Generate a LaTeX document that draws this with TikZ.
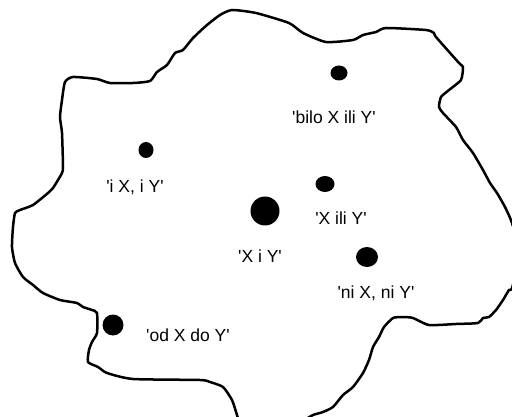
\documentclass[tikz,border=0pt]{standalone}
\usepackage{fontspec}
\setmainfont{Liberation Sans}[Ligatures=TeXOff]
\usetikzlibrary{shapes.geometric}
\begin{document}
\begin{tikzpicture}[x=1pt, y=-1pt, every node/.style={font=\fontsize{17.5}{20}\selectfont, inner sep=0pt},
  dot/.style={ellipse, fill=black, draw=none, inner sep=0pt}]
\useasboundingbox (0,0) rectangle (512,417);
\begin{scope}
\clip (0,0) rectangle (512,417);
\draw[line width=2.5pt, line join=round, line cap=round] plot[smooth, tension=0.35] coordinates {
  (240,425) (237,415) (232,400) (223,387) (210,382) (200,380) (133,379) (107,373) (98,367)
  (88,362) (89,350) (92,342) (97,333) (97,313) (92,310) (83,307) (77,303) (60,300) (43,293)
  (33,285) (23,277) (15,263) (12,247) (13,227) (15,213) (20,210) (33,205) (48,193) (53,188)
  (58,180) (62,173) (63,167) (62,133) (60,117) (62,100) (65,82) (73,77) (97,79) (110,83)
  (133,83) (150,81) (157,72) (167,65) (175,53) (183,50) (193,38) (207,25) (220,15) (232,10)
  (256,13) (289,23) (303,33) (326,42) (353,40) (363,35) (376,32) (386,28) (426,30) (434,33)
  (436,37) (459,63) (463,67) (461,80) (449,90) (441,97) (439,107) (443,113) (456,127)
  (463,140) (473,153) (483,170) (490,183) (497,193) (505,207) (512,223) (520,255) (512,288)
  (509,290) (503,300) (496,310) (489,317) (483,318) (478,323) (456,324) (429,325) (413,318)
  (403,317) (393,318) (384,327) (379,337) (373,347) (369,360) (363,373) (353,387) (343,395)
  (333,407) (323,412) (313,415) (303,421)};
\end{scope}
% points
\node[dot, minimum width=17pt, minimum height=15pt] (bilo) at (339,73) {};
\node[dot, minimum width=15pt, minimum height=16pt] (ixiy) at (146,150) {};
\node[dot, minimum width=19pt, minimum height=16pt] (xili) at (325,184) {};
\node[dot, minimum width=29pt, minimum height=29pt] (xiy) at (265,211) {};
\node[dot, minimum width=22pt, minimum height=20pt] (nixy) at (367,257) {};
\node[dot, minimum width=21pt, minimum height=21pt] (odxy) at (113,325) {};
% labels
\node (bilo_lbl) at (334,117) {'bilo X ili Y'};
\node (ixiy_lbl) at (135,187) {'i X, i Y'};
\node (xili_lbl) at (341,218) {'X ili Y'};
\node (xiy_lbl) at (260,256) {'X i Y'};
\node (nixy_lbl) at (376,293) {'ni X, ni Y'};
\node (odxy_lbl) at (188,335) {'od X do Y'};
\end{tikzpicture}
\end{document}
